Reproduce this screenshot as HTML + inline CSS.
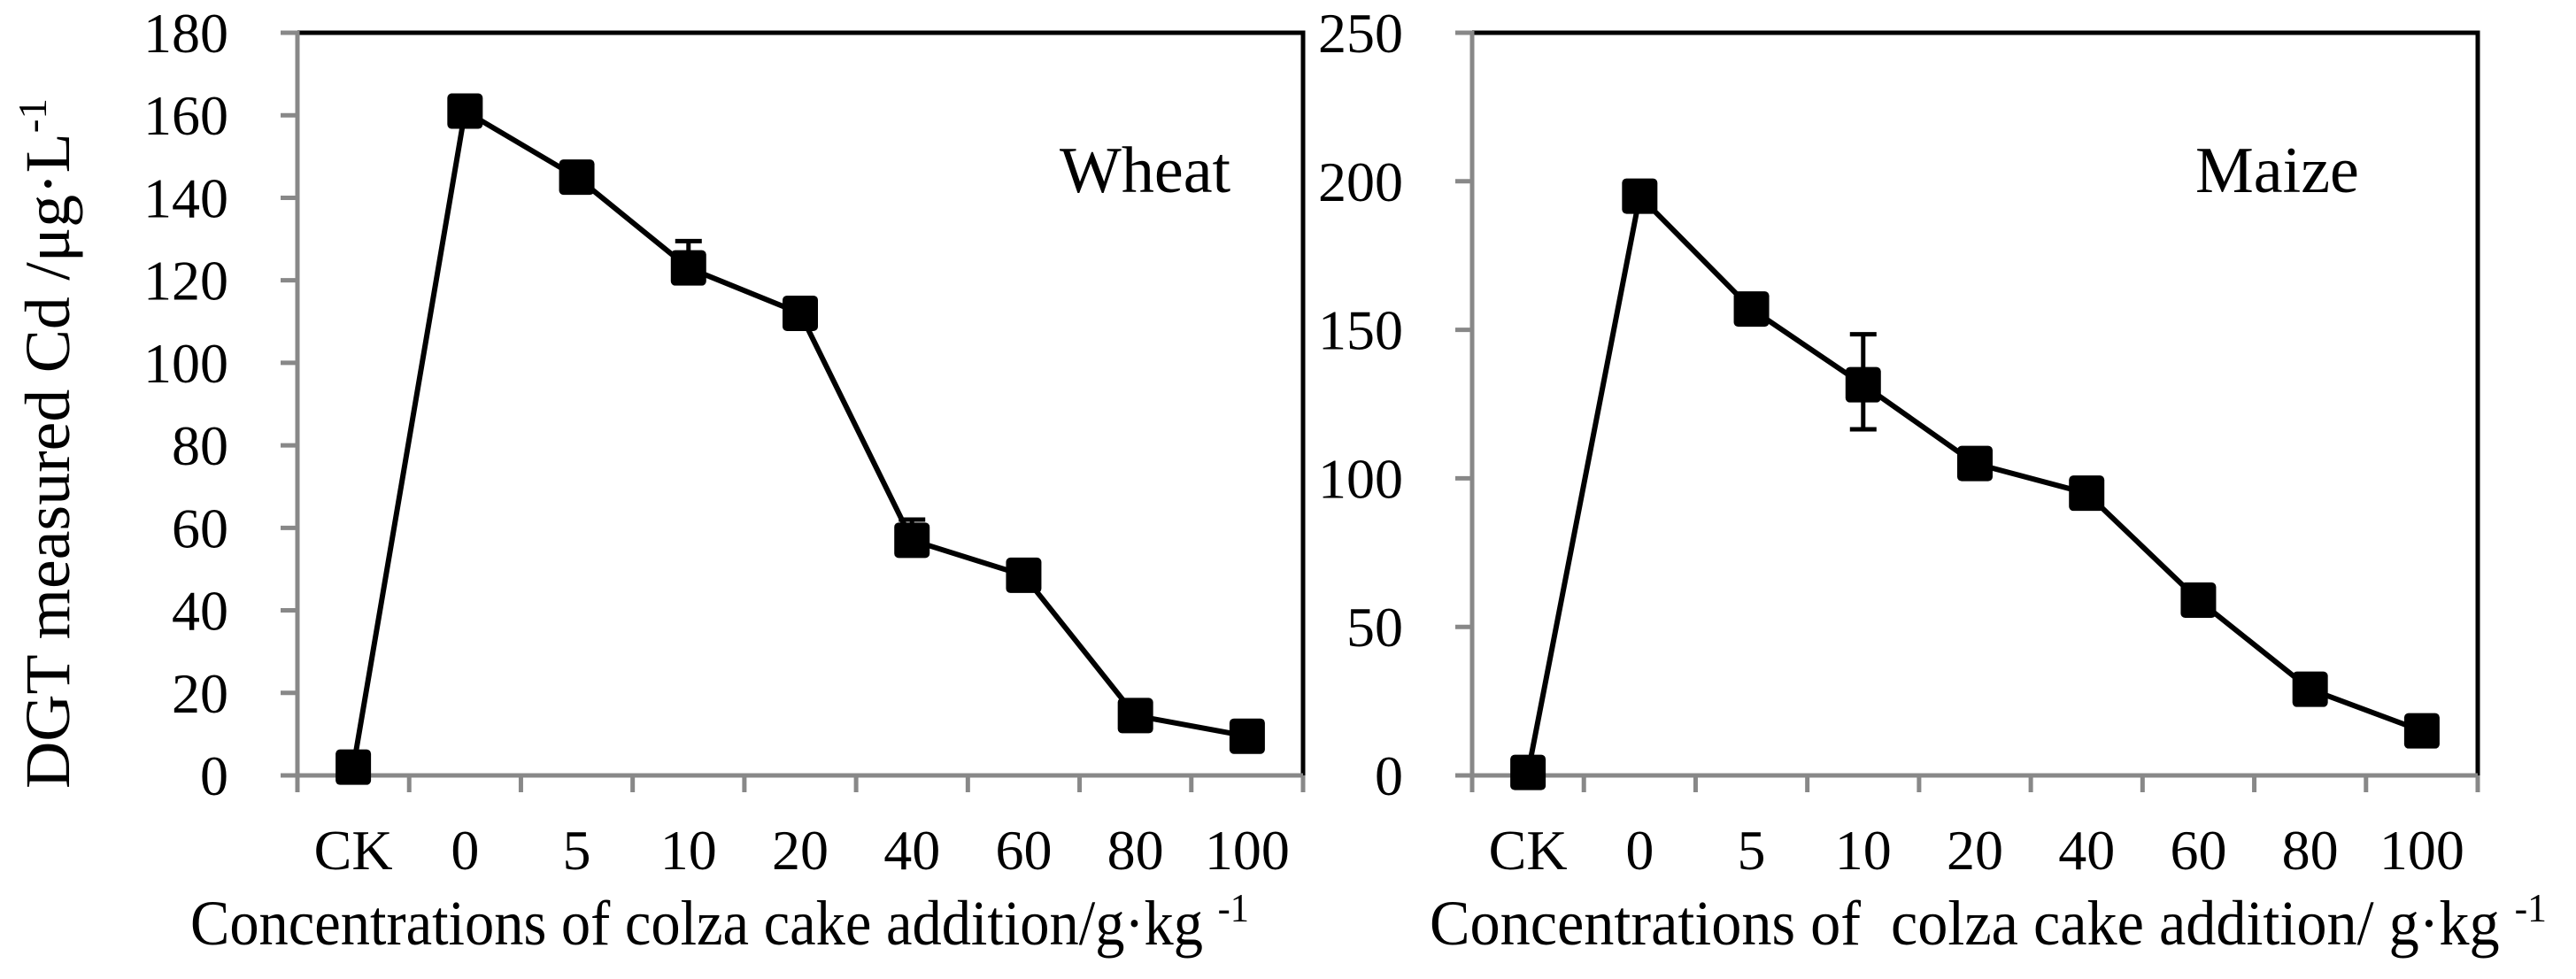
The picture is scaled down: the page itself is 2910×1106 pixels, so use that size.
<!DOCTYPE html>
<html><head><meta charset="utf-8"><style>
html,body{margin:0;padding:0;background:#fff;}
svg{display:block;font-family:"Liberation Serif",serif;}
</style></head><body>
<svg id="chart" width="2910" height="1106" viewBox="0 0 2910 1106" xmlns="http://www.w3.org/2000/svg">
<g id="root"></g>
</svg>
<script>
const categories = ["CK","0","5","10","20","40","60","80","100"];
const wheatValues = [2,161,145,123,112,57,48.5,14.5,9.5];
const wheatErrUp = [0,2,0,6.5,0,5,0,0,0];
const wheatErrDown = [0,0,0,0,0,0,0,0,0];
const maizeValues = [1,195,157,131.5,105,95,59,29,15];
const maizeErrUp = [0,0,0,17,0,0,0,0,0];
const maizeErrDown = [0,0,0,15,0,0,0,0,0];
const wheatTicks = [0,20,40,60,80,100,120,140,160,180];
const maizeTicks = [0,50,100,150,200,250];

const NS = "http://www.w3.org/2000/svg";
const root = document.getElementById('root');
function mk(tag, attrs, parent){
  const e = document.createElementNS(NS, tag);
  for (const k in attrs) e.setAttribute(k, attrs[k]);
  (parent||root).appendChild(e);
  return e;
}

function panel(key, left, right, yMax, ticks, values, errUp, errDown, label, labelX, titleText, titleX, titleLen){
  const top = 37, bottom = 876;
  const g = mk('g', {});
  
  
  const bw = (right-left)/categories.length;
  const xS = i => left + (i+0.5)*bw;
  const yS = v => bottom - (v/yMax)*(bottom-top);
  const frame = mk('path', {d:`M${left} ${top} H${right} V${bottom}`, fill:'none', stroke:'#000', 'stroke-width':5}, g);
  
  
  const ya = mk('line', {x1:left, y1:top-2, x2:left, y2:bottom+19, stroke:'#888', 'stroke-width':5}, g);
  
  
  const xa = mk('line', {x1:left-19, y1:bottom, x2:right, y2:bottom, stroke:'#888', 'stroke-width':5}, g);
  
  
  ticks.forEach(t => {
    const y = yS(t);
    const tl = mk('line', {x1:left-19, y1:y, x2:left, y2:y, stroke:'#888', 'stroke-width':5}, g);
    
    
    const tx = mk('text', {x:left-78, y:y+22, 'font-size':64, 'text-anchor':'end'}, g);
    tx.textContent = t;
    
    
  });
  for (let i=0;i<=categories.length;i++){
    const x = left + i*bw;
    const tk = mk('line', {x1:x, y1:bottom, x2:x, y2:bottom+19, stroke:'#888', 'stroke-width':5}, g);
    
    
  }
  categories.forEach((c,i) => {
    const tx = mk('text', {x:xS(i), y:982, 'font-size':64, 'text-anchor':'middle'}, g);
    tx.textContent = c;
    
    
  });
  const pts = values.map((v,i)=>`${xS(i)},${yS(v)}`).join(' ');
  const line = mk('polyline', {points:pts, fill:'none', stroke:'#000', 'stroke-width':6, 'stroke-linejoin':'round'}, g);
  
  
  values.forEach((v,i) => {
    const x = xS(i);
    if (errUp[i] > 0){
      const y1 = yS(v+errUp[i]);
      const eb = mk('path', {d:`M${x} ${yS(v)} V${y1} M${x-15} ${y1} H${x+15}`, stroke:'#000', 'stroke-width':5, fill:'none'}, g);
      
      
    }
    if (errDown[i] > 0){
      const y2 = yS(v-errDown[i]);
      const eb = mk('path', {d:`M${x} ${yS(v)} V${y2} M${x-15} ${y2} H${x+15}`, stroke:'#000', 'stroke-width':5, fill:'none'}, g);
      
      
    }
    const m = mk('rect', {x:x-20, y:yS(v)-20, width:40, height:40, rx:5, fill:'#000'}, g);
    
    
  });
  const lb = mk('text', {x:labelX, y:217, 'font-size':74}, g);
  lb.textContent = label;
  
  
  const tt = mk('text', {x:titleX, y:1067, 'font-size':72, textLength:titleLen, lengthAdjust:'spacingAndGlyphs'}, g);
  tt.innerHTML = titleText + '<tspan dy="-26" font-size="46">-1</tspan>';
  
  
}

panel('wheat', 336, 1472, 180, wheatTicks, wheatValues, wheatErrUp, wheatErrDown, 'Wheat', 1197,
  'Concentrations of colza cake addition/g·kg ', 215, 1196);
panel('maize', 1663, 2799, 250, maizeTicks, maizeValues, maizeErrUp, maizeErrDown, 'Maize', 2480,
  'Concentrations of&#160; colza cake addition/ g·kg ', 1615, 1262);

const yt = mk('text', {x:0, y:0, 'font-size':72, transform:'translate(78,891) rotate(-90)', textLength:780, lengthAdjust:'spacingAndGlyphs'});
yt.innerHTML = 'DGT measured Cd /μg·L<tspan dy="-26" font-size="46">-1</tspan>';


</script>
</body></html>
